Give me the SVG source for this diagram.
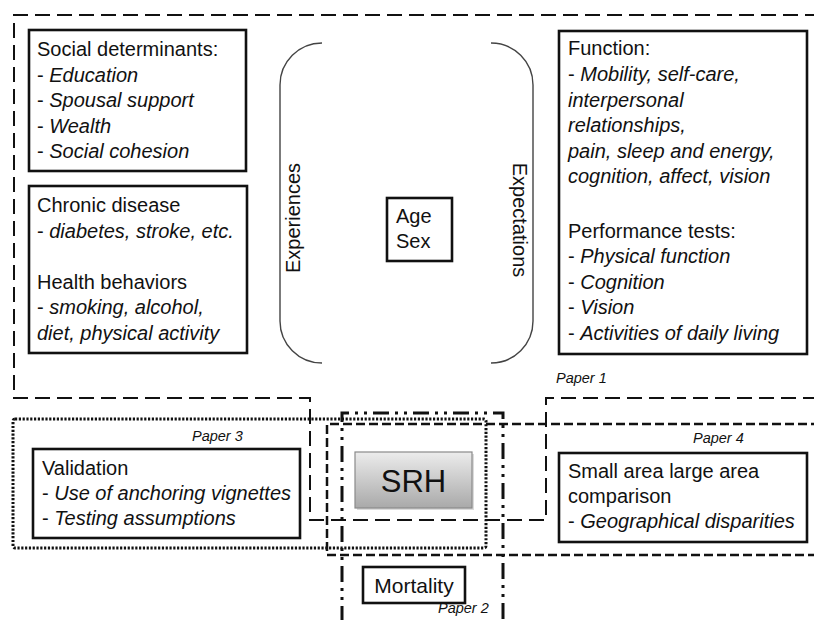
<svg xmlns="http://www.w3.org/2000/svg" width="814" height="620" viewBox="0 0 814 620">
<style>
  text { font-family: "Liberation Sans", Arial, sans-serif; font-size: 20px; fill: #111; }
  .it { font-style: italic; }
  .paper { font-size: 14.5px; font-style: italic; }
  .big { font-size: 31px; }
  .mort { font-size: 21px; }
  .box { fill: #fff; stroke: #111; stroke-width: 2.6; }
  .p1 { fill: none; stroke: #111; stroke-width: 2; stroke-dasharray: 15 7; }
  .p2 { fill: none; stroke: #111; stroke-width: 3; stroke-dasharray: 16 6 3 6 3 6; }
  .p3 { fill: none; stroke: #111; stroke-width: 3; stroke-dasharray: 2.2 1.6; }
  .p4 { fill: none; stroke: #111; stroke-width: 2.5; stroke-dasharray: 9 4; }
  .bracket { fill: none; stroke: #444; stroke-width: 1.4; }
</style>
<defs>
  <linearGradient id="srhGrad" x1="0" y1="0" x2="0" y2="1">
    <stop offset="0" stop-color="#ececec"/>
    <stop offset="1" stop-color="#a9a9a9"/>
  </linearGradient>
</defs>
<rect width="814" height="620" fill="#fff"/>

<g id="connectors">
  <path id="paper1-outline" class="p1" d="M820,15 L14,15 L14,398 L310,398 L310,520 L546,520 L546,398 L820,398"/>
  <rect id="paper3-outline" class="p3" x="13" y="419" width="473" height="129" rx="2"/>
  <path id="paper4-outline" class="p4" d="M820,424 L327,424 L327,555 L820,555"/>
  <path id="paper2-outline" class="p2" d="M342,622 L342,413 L503,413 L503,622"/>
  <path id="bracket-left" class="bracket" d="M322,43 A42,42 0 0 0 280,85 L280,321 A42,42 0 0 0 322,363"/>
  <path id="bracket-right" class="bracket" d="M491,43 A42,42 0 0 1 533,85 L533,321 A42,42 0 0 1 491,363"/>
</g>

<g id="social-determinants">
  <rect class="box" x="29" y="30" width="217" height="141"/>
  <text x="37" y="56">Social determinants:</text>
  <text x="37" y="81.5">- <tspan class="it">Education</tspan></text>
  <text x="37" y="107">- <tspan class="it">Spousal support</tspan></text>
  <text x="37" y="132.5">- <tspan class="it">Wealth</tspan></text>
  <text x="37" y="158">- <tspan class="it">Social cohesion</tspan></text>
</g>

<g id="chronic-disease">
  <rect class="box" x="29" y="186" width="218" height="167"/>
  <text x="37" y="212">Chronic disease</text>
  <text x="37" y="237.5">- <tspan class="it">diabetes, stroke, etc.</tspan></text>
  <text x="37" y="288.5">Health behaviors</text>
  <text x="37" y="314">- <tspan class="it">smoking, alcohol,</tspan></text>
  <text x="37" y="339.5" class="it">diet, physical activity</text>
</g>

<g id="experiences">
  <text transform="translate(300,218) rotate(-90)" text-anchor="middle">Experiences</text>
</g>

<g id="expectations">
  <text transform="translate(513,220) rotate(90)" text-anchor="middle">Expectations</text>
</g>

<g id="age-sex">
  <rect class="box" x="387" y="198" width="65" height="63" stroke-width="2.2"/>
  <text x="396" y="223">Age</text>
  <text x="396" y="248">Sex</text>
</g>

<g id="function">
  <rect class="box" x="559" y="31" width="248" height="323"/>
  <text x="568" y="55">Function:</text>
  <text x="568" y="81">- <tspan class="it">Mobility, self-care,</tspan></text>
  <text x="568" y="106.5" class="it">interpersonal</text>
  <text x="568" y="132" class="it">relationships,</text>
  <text x="568" y="157.5" class="it">pain, sleep and energy,</text>
  <text x="568" y="183" class="it">cognition, affect, vision</text>
  <text x="568" y="237.5">Performance tests:</text>
  <text x="568" y="263">- <tspan class="it">Physical function</tspan></text>
  <text x="568" y="288.5">- <tspan class="it">Cognition</tspan></text>
  <text x="568" y="314">- <tspan class="it">Vision</tspan></text>
  <text x="568" y="339.5">- <tspan class="it">Activities of daily living</tspan></text>
</g>

<g id="paper1-label">
  <text class="paper" x="556" y="383">Paper 1</text>
</g>

<g id="validation">
  <text class="paper" x="192" y="441">Paper 3</text>
  <rect class="box" x="33" y="449" width="267" height="89"/>
  <text x="42" y="475">Validation</text>
  <text x="42" y="500">- <tspan class="it">Use of anchoring vignettes</tspan></text>
  <text x="42" y="525">- <tspan class="it">Testing assumptions</tspan></text>
</g>

<g id="srh">
  <rect x="357" y="454" width="117" height="56" fill="#999" opacity="0.35"/>
  <rect x="355" y="452" width="117" height="56" fill="url(#srhGrad)" stroke="#8a8a8a" stroke-width="1.2"/>
  <text class="big" x="413.5" y="492" text-anchor="middle">SRH</text>
</g>

<g id="small-area">
  <text class="paper" x="693" y="443">Paper 4</text>
  <rect class="box" x="559" y="453" width="248" height="89"/>
  <text x="568" y="478">Small area large area</text>
  <text x="568" y="503">comparison</text>
  <text x="568" y="528">- <tspan class="it">Geographical disparities</tspan></text>
</g>

<g id="mortality">
  <rect class="box" x="363" y="567" width="102" height="36"/>
  <text class="mort" x="414" y="593" text-anchor="middle">Mortality</text>
  <text class="paper" x="438" y="613">Paper 2</text>
</g>
</svg>
